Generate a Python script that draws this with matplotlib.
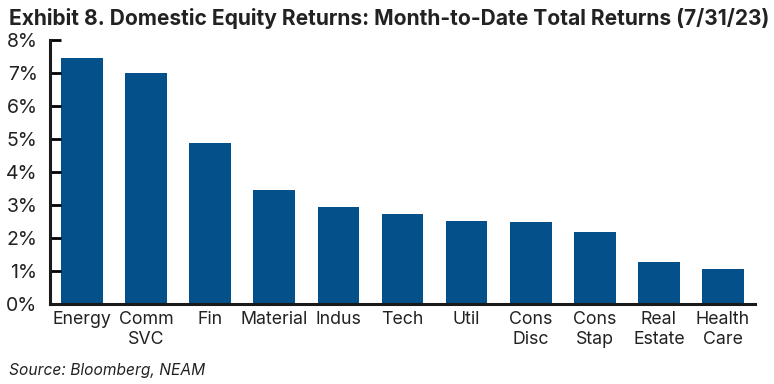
import matplotlib.pyplot as plt
from matplotlib.ticker import FuncFormatter

plt.rcParams['font.family'] = ['Inter', 'DejaVu Sans']

# sectors and month-to-date total returns (%)
sectors = ["Energy", "Comm\nSVC", "Fin", "Material", "Indus", "Tech", "Util",
           "Cons\nDisc", "Cons\nStap", "Real\nEstate", "Health\nCare"]
returns = [7.45, 7.0, 4.88, 3.45, 2.94, 2.73, 2.52, 2.48, 2.18, 1.27, 1.06]
yticks = [0, 1, 2, 3, 4, 5, 6, 7, 8]

fig = plt.figure(figsize=(7.74, 3.84), dpi=100)
ax = fig.add_axes([0.0646, 0.2083, 0.9109, 0.6875])

x = range(len(sectors))
ax.bar(x, returns, width=0.65, color="#04508a")

ax.set_xlim(-0.5, len(sectors) - 0.5)
ax.set_ylim(0, 8)
ax.set_yticks(yticks)
ax.yaxis.set_major_formatter(FuncFormatter(lambda v, p: f"{v:.0f}%"))
ax.set_xticks(list(x))
ax.set_xticklabels(sectors, fontsize=12.8, color="#222222", linespacing=1.25)

ax.tick_params(axis="y", direction="in", length=8, width=2, labelsize=14,
               labelcolor="#222222", pad=9)
ax.tick_params(axis="x", length=0, pad=5)

for s in ["top", "right"]:
    ax.spines[s].set_visible(False)
for s in ["left", "bottom"]:
    ax.spines[s].set_linewidth(2.2)
    ax.spines[s].set_color("#1a1a1a")

fig.text(0.012, 0.953, "Exhibit 8. Domestic Equity Returns: Month-to-Date Total Returns (7/31/23)",
         fontsize=15.1, fontweight="bold", color="#222222", va="center", ha="left")
fig.text(0.012, 0.035, "Source: Bloomberg, NEAM", fontsize=11.2, style="italic",
         color="#222222", va="center", ha="left")

plt.savefig("out.png", dpi=100)
